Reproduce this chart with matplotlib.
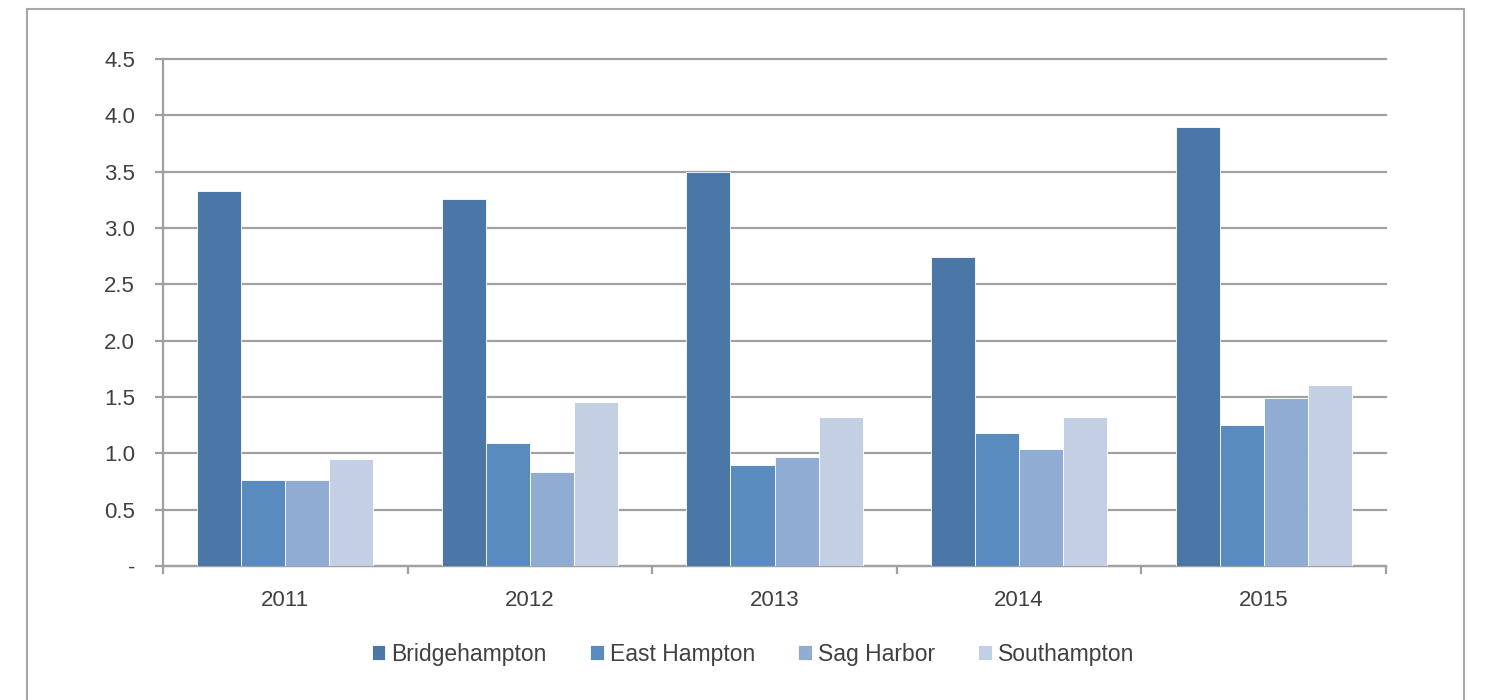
import numpy as np
import matplotlib
matplotlib.use("Agg")
import matplotlib.pyplot as plt
from matplotlib.patches import Rectangle

years = ["2011", "2012", "2013", "2014", "2015"]
series = ["Bridgehampton", "East Hampton", "Sag Harbor", "Southampton"]
bridgehampton = [3.33, 3.26, 3.50, 2.74, 3.90]
east_hampton = [0.76, 1.09, 0.90, 1.18, 1.25]
sag_harbor = [0.76, 0.83, 0.97, 1.04, 1.49]
southampton = [0.95, 1.46, 1.32, 1.32, 1.61]
yticks = [0, 0.5, 1.0, 1.5, 2.0, 2.5, 3.0, 3.5, 4.0, 4.5]
ytick_labels = ["-", "0.5", "1.0", "1.5", "2.0", "2.5", "3.0", "3.5", "4.0", "4.5"]

colors = ["#4A77A5", "#5A8BBF", "#91ACD3", "#C3D0E4"]
grid_c = "#A0A0A0"
text_c = "#404040"

plt.rcParams["font.family"] = ["Liberation Sans", "DejaVu Sans"]

fig = plt.figure(figsize=(14.89, 7.0), dpi=100)
ax = fig.add_axes([163 / 1489, 1 - 566 / 700, (1386 - 163) / 1489, (566 - 59) / 700])

# outer frame
fig.patches.append(Rectangle((27 / 1489, -0.05), (1464 - 27) / 1489, 1.05 - 9 / 700,
                             transform=fig.transFigure, fill=False,
                             edgecolor="#A8A8A8", linewidth=1.5, zorder=0))

x = np.arange(len(years))
w = 0.18
for i, (vals, name) in enumerate(zip([bridgehampton, east_hampton, sag_harbor, southampton], series)):
    ax.bar(x + (i - 1.5) * w, vals, width=w, color=colors[i], edgecolor="white",
           linewidth=0.6, label=name, zorder=3)

ax.set_xlim(-0.5, len(years) - 0.5)
ax.set_ylim(0, 4.5)
ax.set_yticks(yticks)
ax.set_yticklabels(ytick_labels)
ax.yaxis.grid(True, color=grid_c, linewidth=1.6, zorder=0)
for gl in ax.get_ygridlines():
    gl.set_clip_on(False)
ax.set_axisbelow(True)

ax.set_xticks(x)
ax.set_xticklabels(years)
ax.set_xticks(np.arange(-0.5, len(years)), minor=True)
ax.tick_params(axis="x", which="major", length=0, pad=17, labelsize=16, labelcolor=text_c)
ax.tick_params(axis="x", which="minor", length=6, width=1.6, color=grid_c)
ax.tick_params(axis="y", length=6, width=1.6, color=grid_c, pad=14, labelsize=16, labelcolor=text_c)

for s in ["top", "right"]:
    ax.spines[s].set_visible(False)
for s in ["left", "bottom"]:
    ax.spines[s].set_color(grid_c)
    ax.spines[s].set_linewidth(1.6)

fig.legend(loc="center", bbox_to_anchor=(753 / 1489, 1 - 654 / 700), ncol=4, frameon=False,
           fontsize=16.5, labelcolor=text_c, handlelength=0.6, handleheight=0.6,
           handletextpad=0.25, columnspacing=1.9)

fig.savefig("out.png", dpi=100, facecolor="white")
